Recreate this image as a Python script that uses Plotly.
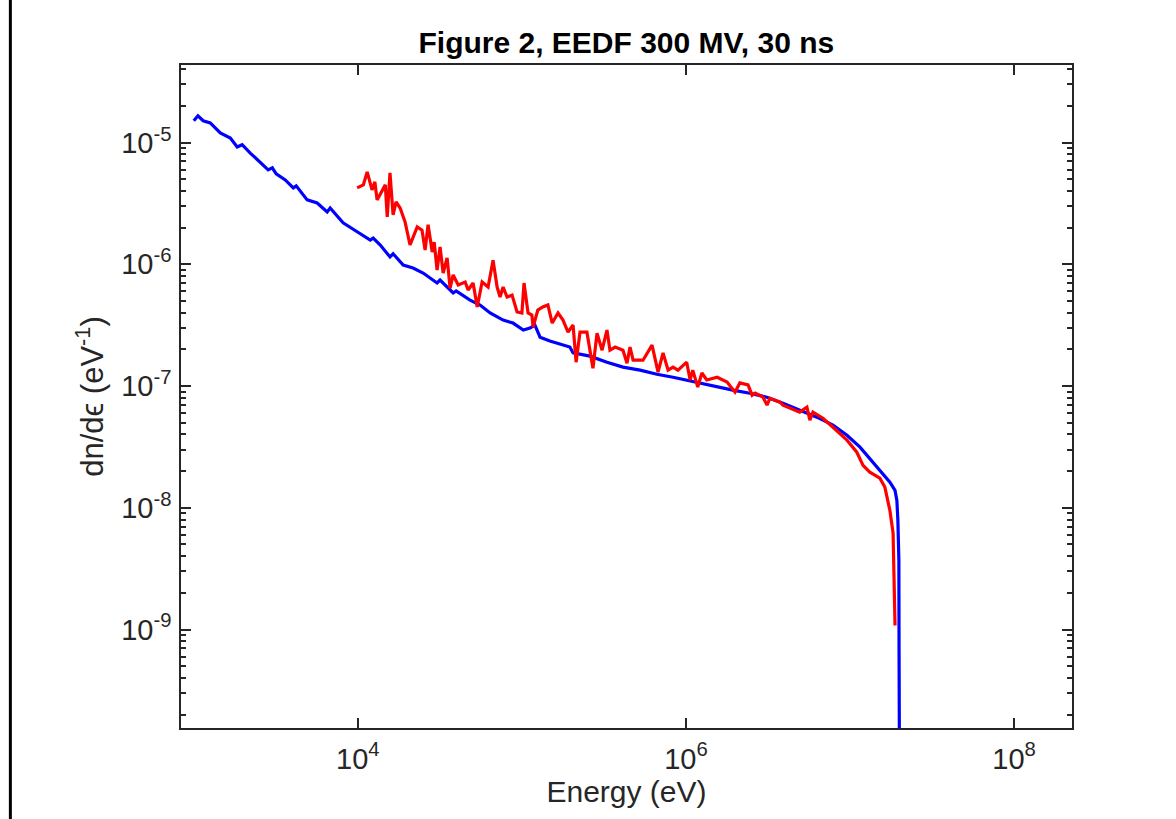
import plotly.graph_objects as go

# ---------------- data ----------------
blue_energy = [1.00e3, 1.06e3, 1.14e3, 1.26e3, 1.45e3, 1.67e3, 1.84e3, 1.97e3, 2.21e3, 2.54e3,
               2.84e3, 3.01e3, 3.18e3, 3.61e3, 4.04e3, 4.21e3, 4.91e3, 5.65e3, 6.50e3, 6.78e3,
               8.13e3, 9.90e3, 1.19e4, 1.24e4, 1.37e4, 1.57e4, 1.64e4, 1.89e4, 2.17e4, 2.50e4,
               3.04e4, 3.17e4, 3.81e4, 3.97e4, 4.83e4, 5.56e4, 6.40e4, 7.68e4, 8.83e4, 1.02e5,
               1.12e5, 1.20e5, 1.29e5, 1.48e5, 1.78e5, 1.96e5, 2.05e5, 2.60e5, 3.30e5, 4.13e5,
               5.25e5, 6.65e5, 8.34e5, 1.06e6, 1.34e6, 1.61e6, 1.93e6, 2.45e6, 3.11e6, 3.90e6,
               4.94e6, 6.28e6, 7.87e6, 9.58e6, 1.15e7, 1.32e7, 1.52e7, 1.75e7, 1.88e7, 1.93e7,
               1.957e7, 1.985e7, 1.99e7, 2.00e7]
blue_density = [1.51e-5, 1.66e-5, 1.51e-5, 1.45e-5, 1.20e-5, 1.09e-5, 9.2e-6, 9.6e-6, 8.2e-6, 6.8e-6,
                5.96e-6, 6.2e-6, 5.53e-6, 4.93e-6, 4.24e-6, 4.41e-6, 3.38e-6, 3.19e-6, 2.69e-6, 2.90e-6,
                2.19e-6, 1.85e-6, 1.58e-6, 1.64e-6, 1.44e-6, 1.15e-6, 1.22e-6, 9.87e-7, 9.33e-7, 8.48e-7,
                7.02e-7, 7.43e-7, 5.81e-7, 6.03e-7, 5.08e-7, 4.63e-7, 3.98e-7, 3.48e-7, 3.29e-7, 2.88e-7,
                2.99e-7, 3.17e-7, 2.52e-7, 2.34e-7, 2.17e-7, 2.09e-7, 1.87e-7, 1.76e-7, 1.57e-7, 1.43e-7,
                1.35e-7, 1.25e-7, 1.18e-7, 1.10e-7, 1.02e-7, 9.8e-8, 9.25e-8, 8.73e-8, 8.1e-8, 7.23e-8,
                6.34e-8, 5.55e-8, 4.77e-8, 3.94e-8, 3.15e-8, 2.55e-8, 2.03e-8, 1.62e-8, 1.39e-8, 1.15e-8,
                7.9e-9, 3.7e-9, 6.7e-10, 1.0e-10]

red_energy = [9.9e3, 1.08e4, 1.14e4, 1.22e4, 1.27e4, 1.31e4, 1.47e4, 1.51e4, 1.57e4, 1.64e4,
              1.71e4, 1.81e4, 1.94e4, 2.08e4, 2.30e4, 2.46e4, 2.57e4, 2.68e4, 2.84e4, 2.92e4,
              3.04e4, 3.17e4, 3.31e4, 3.50e4, 3.65e4, 3.81e4, 4.09e4, 4.51e4, 4.70e4, 5.04e4,
              5.34e4, 5.72e4, 6.22e4, 6.67e4, 7.06e4, 7.36e4, 7.68e4, 8.12e4, 8.71e4, 9.34e4,
              1.00e5, 1.03e5, 1.09e5, 1.15e5, 1.17e5, 1.25e5, 1.34e5, 1.44e5, 1.53e5, 1.66e5,
              1.78e5, 1.91e5, 2.05e5, 2.14e5, 2.26e5, 2.49e5, 2.71e5, 2.87e5, 3.08e5, 3.30e5,
              3.44e5, 3.70e5, 4.13e5, 4.37e5, 4.56e5, 4.76e5, 5.47e5, 5.79e5, 6.21e5, 6.76e5,
              7.25e5, 7.78e5, 8.34e5, 8.94e5, 1.01e6, 1.06e6, 1.10e6, 1.18e6, 1.25e6, 1.34e6,
              1.55e6, 1.78e6, 1.99e6, 2.13e6, 2.39e6, 2.53e6, 2.64e6, 2.95e6, 3.12e6, 3.25e6,
              3.74e6, 3.90e6, 4.94e6, 5.46e6, 5.69e6, 5.94e6, 6.84e6, 7.87e6, 9.58e6, 1.10e7,
              1.20e7, 1.32e7, 1.52e7, 1.63e7, 1.75e7, 1.83e7, 1.85e7, 1.88e7]
red_density = [4.24e-6, 4.49e-6, 5.74e-6, 4.08e-6, 4.75e-6, 3.38e-6, 4.49e-6, 2.45e-6, 5.64e-6, 2.54e-6,
               3.25e-6, 2.90e-6, 2.23e-6, 1.44e-6, 2.03e-6, 1.91e-6, 1.31e-6, 2.11e-6, 1.26e-6, 1.52e-6,
               8.97e-7, 1.39e-6, 8.48e-7, 1.13e-6, 6.38e-7, 8.17e-7, 6.76e-7, 7.15e-7, 6.15e-7, 7.02e-7,
               4.46e-7, 7.15e-7, 6.50e-7, 1.08e-6, 6.50e-7, 5.38e-7, 6.50e-7, 5.38e-7, 5.58e-7, 4.06e-7,
               3.98e-7, 7.02e-7, 3.98e-7, 3.83e-7, 3.05e-7, 4.21e-7, 4.46e-7, 4.63e-7, 3.29e-7, 3.98e-7,
               3.48e-7, 2.77e-7, 3.17e-7, 1.57e-7, 2.77e-7, 2.77e-7, 1.40e-7, 2.72e-7, 1.97e-7, 2.88e-7,
               1.97e-7, 2.09e-7, 1.97e-7, 1.54e-7, 2.09e-7, 1.63e-7, 1.63e-7, 1.87e-7, 2.17e-7, 1.30e-7,
               1.87e-7, 1.35e-7, 1.43e-7, 1.35e-7, 1.57e-7, 1.12e-7, 1.35e-7, 9.8e-8, 1.28e-7, 1.12e-7,
               1.18e-7, 1.08e-7, 8.91e-8, 1.06e-7, 1.02e-7, 8.41e-8, 8.74e-8, 8.1e-8, 6.97e-8, 7.94e-8,
               7.37e-8, 6.97e-8, 6.1e-8, 6.7e-8, 5.24e-8, 6.1e-8, 5.44e-8, 4.59e-8, 3.59e-8, 2.86e-8,
               2.23e-8, 1.96e-8, 1.75e-8, 1.48e-8, 9.5e-9, 6.2e-9, 3.24e-9, 1.08e-9]

x_tick_vals = [1e4, 1e6, 1e8]
x_tick_text = ["10<sup>4</sup>", "10<sup>6</sup>", "10<sup>8</sup>"]
y_tick_vals = [1e-9, 1e-8, 1e-7, 1e-6, 1e-5]
y_tick_text = ["10<sup>-9</sup>", "10<sup>-8</sup>", "10<sup>-7</sup>", "10<sup>-6</sup>", "10<sup>-5</sup>"]
y_minor_vals = [m * 10.0 ** d for d in range(-10, -4) for m in range(2, 10)]

title_text = "<b>Figure 2, EEDF 300 MV, 30 ns</b>"
x_label = "Energy (eV)"
y_label = "dn/dϵ (eV<sup>-1</sup>)"

# ---------------- figure ----------------
axis_color = "#262626"
font_family = "Liberation Sans, Arial, Helvetica, sans-serif"
fig = go.Figure()
fig.add_trace(go.Scatter(x=blue_energy, y=blue_density, mode="lines",
                         line=dict(color="#0000ff", width=3.2), showlegend=False))
fig.add_trace(go.Scatter(x=red_energy, y=red_density, mode="lines",
                         line=dict(color="#ff0000", width=3.2), showlegend=False))

fig.update_layout(
    width=1176, height=819,
    margin=dict(l=181, r=104, t=65, b=91, pad=0),
    paper_bgcolor="white", plot_bgcolor="white",
    font=dict(family=font_family, color=axis_color, size=29),
    title=dict(text=title_text, x=0.5326, xanchor="center", y=0.948, yanchor="middle",
               font=dict(family=font_family, size=30, color="black")),
)
fig.update_xaxes(
    type="log", range=[2.922, 8.353],
    tickmode="array", tickvals=x_tick_vals, ticktext=x_tick_text,
    tickfont=dict(family=font_family, size=29, color=axis_color),
    ticks="inside", ticklen=10, tickwidth=1.5, tickcolor=axis_color,
    showline=True, linecolor=axis_color, linewidth=1.5, mirror="ticks",
    showgrid=False, zeroline=False, ticklabelstandoff=4,
    title=dict(text=x_label, font=dict(family=font_family, size=30, color=axis_color), standoff=2),
)
fig.update_yaxes(
    type="log", range=[-9.809, -4.363],
    tickmode="array", tickvals=y_tick_vals, ticktext=y_tick_text,
    tickfont=dict(family=font_family, size=29, color=axis_color),
    ticks="inside", ticklen=10, tickwidth=1.5, tickcolor=axis_color,
    minor=dict(tickmode="array", tickvals=y_minor_vals, ticks="inside", ticklen=5,
               tickwidth=1.5, tickcolor=axis_color, showgrid=False),
    showline=True, linecolor=axis_color, linewidth=1.5, mirror="ticks",
    showgrid=False, zeroline=False, ticklabelstandoff=2,
    title=dict(text=y_label, font=dict(family=font_family, size=31, color=axis_color), standoff=8),
)
# black vertical border line at the far left of the figure
fig.add_shape(type="line", xref="paper", yref="paper", x0=-0.1915, x1=-0.1915, y0=-0.2, y1=1.2,
              line=dict(color="black", width=3))

fig.write_html("out.html")
